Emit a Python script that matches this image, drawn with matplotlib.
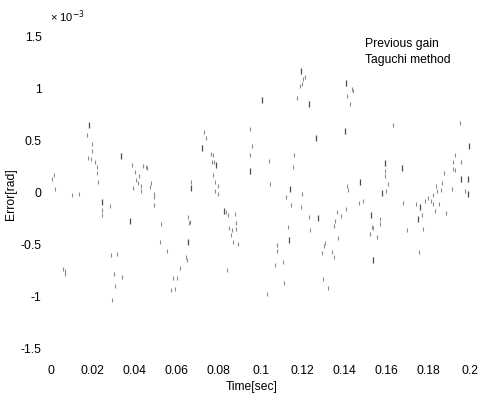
import matplotlib
matplotlib.use("Agg")
import matplotlib.pyplot as plt

plt.rcParams['font.family'] = ['Liberation Sans', 'DejaVu Sans']

# 较长的竖线段（扫描后残留的较深的点）
prev_time = [0.0180, 0.0334, 0.0242, 0.0378, 0.0652, 0.1192, 0.1007, 0.1230, 0.0721,
             0.1263, 0.0789, 0.0951, 0.0670, 0.1142, 0.0827, 0.1276, 0.1135, 0.1408,
             0.1403, 0.1997, 0.1593, 0.1677, 0.1475, 0.1955, 0.1992, 0.1582, 0.1992,
             0.1762, 0.1754, 0.1527, 0.1538]
prev_err = [0.65, 0.35, -0.09, -0.28, -0.48, 1.16, 0.89, 0.85, 0.42,
            0.52, 0.26, 0.20, 0.04, 0.03, -0.18, -0.25, -0.46, 1.05,
            0.59, 0.44, 0.28, 0.23, 0.10, 0.13, 0.13, -0.01, -0.02,
            -0.14, -0.26, -0.22, -0.65]

# 较浅的小点
tag_time = [0.0173, 0.0195, 0.0194, 0.0178, 0.0192, 0.0210, 0.0218, 0.0218, 0.0226,
            0.0014, 0.0003, 0.0019, 0.0100, 0.0135, 0.0388, 0.0440, 0.0452, 0.0460,
            0.0402, 0.0421, 0.0405, 0.0416, 0.0429, 0.0431, 0.0393, 0.0477, 0.0473,
            0.0491, 0.0490, 0.0491, 0.0283, 0.0242, 0.0242, 0.0524, 0.0655, 0.0657,
            0.0520, 0.0556, 0.0645, 0.0649, 0.0285, 0.0314, 0.0057, 0.0065, 0.0065,
            0.0302, 0.0338, 0.0617, 0.0584, 0.0600, 0.0304, 0.0571, 0.0591, 0.0292,
            0.1214, 0.1201, 0.1199, 0.1187, 0.1173, 0.0949, 0.0730, 0.0742, 0.0961,
            0.0762, 0.0772, 0.0951, 0.1162, 0.0767, 0.0776, 0.1040, 0.1155, 0.0772,
            0.0668, 0.0781, 0.0799, 0.0784, 0.0799, 0.1046, 0.1123, 0.1197, 0.1147,
            0.1195, 0.0836, 0.0846, 0.0880, 0.0665, 0.0882, 0.0848, 0.0864, 0.0882,
            0.0859, 0.0870, 0.0892, 0.1130, 0.1230, 0.1238, 0.1080, 0.1080, 0.1307,
            0.1295, 0.1108, 0.1071, 0.0840, 0.1297, 0.1112, 0.1033, 0.1436, 0.1442,
            0.1411, 0.1427, 0.1631, 0.1950, 0.1593, 0.1927, 0.1921, 0.1957, 0.1921,
            0.1929, 0.1877, 0.1595, 0.1610, 0.1414, 0.1418, 0.1598, 0.1864, 0.1861,
            0.1838, 0.1916, 0.1976, 0.1491, 0.1469, 0.1682, 0.1741, 0.1785, 0.1801,
            0.1814, 0.1825, 0.1841, 0.1825, 0.1833, 0.1854, 0.1885, 0.1770, 0.1774,
            0.1408, 0.1364, 0.1382, 0.1356, 0.1352, 0.1532, 0.1539, 0.1571, 0.1571,
            0.1523, 0.1555, 0.1698, 0.1371, 0.1304, 0.1340, 0.1351, 0.1758, 0.1323]
tag_err = [0.55, 0.46, 0.40, 0.33, 0.32, 0.29, 0.24, 0.18, 0.10,
           0.17, 0.13, 0.03, -0.03, -0.02, 0.26, 0.25, 0.24, 0.23,
           0.19, 0.16, 0.12, 0.09, 0.06, 0.01, 0.04, 0.09, 0.05,
           -0.02, -0.05, -0.12, -0.13, -0.17, -0.22, -0.31, -0.24, -0.30,
           -0.48, -0.56, -0.62, -0.65, -0.60, -0.59, -0.74, -0.76, -0.79,
           -0.79, -0.81, -0.73, -0.82, -0.82, -0.90, -0.94, -0.93, -1.04,
           1.11, 1.09, 1.04, 1.02, 0.90, 0.61, 0.58, 0.52, 0.44,
           0.37, 0.36, 0.36, 0.36, 0.29, 0.29, 0.30, 0.24, 0.17,
           0.10, 0.10, 0.06, 0.01, -0.02, 0.08, -0.05, -0.02, -0.12,
           -0.14, -0.19, -0.22, -0.21, -0.29, -0.30, -0.34, -0.36, -0.35,
           -0.41, -0.48, -0.50, -0.33, -0.24, -0.36, -0.51, -0.56, -0.49,
           -0.58, -0.67, -0.70, -0.75, -0.83, -0.87, -0.98, 0.99, 0.97,
           0.92, 0.85, 0.65, 0.66, 0.20, 0.36, 0.29, 0.29, 0.22,
           0.21, 0.18, 0.16, 0.08, 0.06, 0.02, 0.01, 0.09, 0.02,
           0.06, 0.03, 0.01, -0.08, -0.10, -0.10, -0.11, -0.08, -0.06,
           -0.08, -0.03, 0.01, -0.11, -0.18, -0.11, -0.20, -0.22, -0.35,
           -0.16, -0.19, -0.23, -0.28, -0.32, -0.33, -0.34, -0.26, -0.31,
           -0.40, -0.43, -0.36, -0.44, -0.52, -0.57, -0.62, -0.57, -0.92]

x_ticks = [0, 0.02, 0.04, 0.06, 0.08, 0.1, 0.12, 0.14, 0.16, 0.18, 0.2]
x_labels = ['0', '0.02', '0.04', '0.06', '0.08', '0.1', '0.12', '0.14', '0.16', '0.18', '0.2']
y_ticks = [1.5, 1, 0.5, 0, -0.5, -1, -1.5]
y_labels = ['1.5', '1', '0.5', '0', '-0.5', '-1', '-1.5']

fig = plt.figure(figsize=(4.79, 3.97), dpi=100)
ax = fig.add_axes([0.1065, 0.0962, 0.8747, 0.8393])

# 数据点（单位 1e-3 rad）
h1, = ax.plot(prev_time, prev_err, linestyle='none', marker='|', markersize=4.5,
              markeredgewidth=0.9, color='0.3', clip_on=False, label='Previous gain')
h2, = ax.plot(tag_time, tag_err, linestyle='none', marker='|', markersize=2.2,
              markeredgewidth=0.8, color='0.55', clip_on=False, label='Taguchi method')

ax.set_xlim(0, 0.2)
ax.set_ylim(-1.6, 1.6)
ax.set_xticks(x_ticks)
ax.set_xticklabels(x_labels)
ax.set_yticks(y_ticks)
ax.set_yticklabels(y_labels)
ax.tick_params(axis='x', length=0, pad=4.8, labelsize=8.7)
ax.tick_params(axis='y', length=0, pad=6.8, labelsize=8.7)
for s in ax.spines.values():
    s.set_visible(False)

# 图例（原图中只剩文字）
leg = ax.legend(handles=[h1, h2], loc='upper left', bbox_to_anchor=(0.762, 0.905),
                bbox_transform=fig.transFigure, frameon=False, handlelength=0,
                handletextpad=0, borderpad=0, borderaxespad=0, labelspacing=0.35,
                fontsize=8.7)
for h in leg.legend_handles:
    h.set_visible(False)

fig.text(0.526, 0.026, 'Time[sec]', ha='center', va='center', fontsize=8.7)
fig.text(0.023, 0.511, 'Error[rad]', ha='center', va='center', rotation=90, fontsize=8.7)
fig.text(0.104, 0.957, '× 10$^{-3}$', ha='left', va='center', fontsize=8)

fig.savefig('out.png', dpi=100)
